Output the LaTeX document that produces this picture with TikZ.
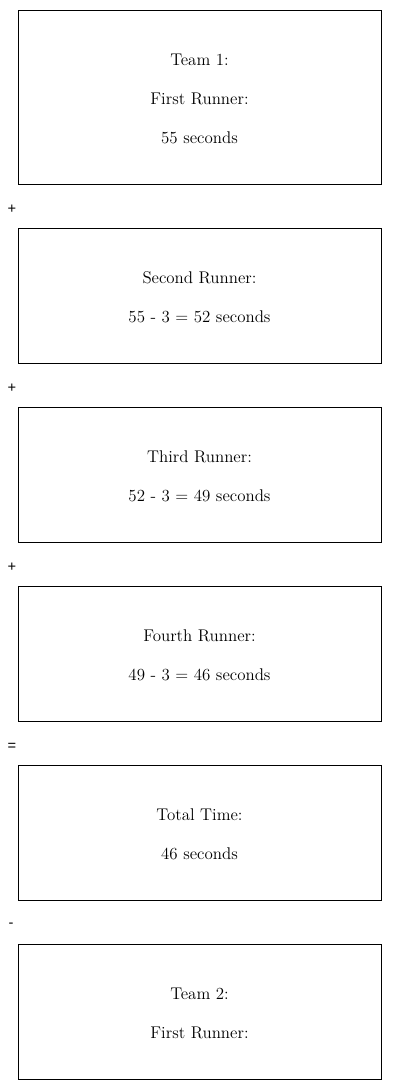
\documentclass[tikz,border=0pt]{standalone}
\usepackage{fontspec}
\newfontfamily\signfont{Liberation Sans}
\begin{document}
\begin{tikzpicture}[x=0.75pt,y=-0.75pt,
  box/.style={draw=black,line width=0.75pt,minimum width=272.25pt,minimum height=101.25pt,inner sep=0pt},
  bigbox/.style={box,minimum height=130.5pt},
  txt/.style={align=center,inner sep=0pt,font=\fontsize{12.7}{29.25}\selectfont},
  sign/.style={font=\signfont\fontsize{11}{13}\selectfont,inner sep=0pt}]
\useasboundingbox (0,0) rectangle (400,1090);
\node[bigbox] (b1) at (199.5,97) {};
\node[txt] (t1) at ([yshift=-1.6pt]b1.center) {Team 1:\\First Runner:\\55 seconds};
\node[sign] (s1) at (12,209.5) {+};
\node[box] (b2) at (199.5,295.5) {};
\node[txt] (t2) at ([yshift=-1.6pt]b2.center) {Second Runner:\\55 - 3 = 52 seconds};
\node[sign] (s2) at (12,388.5) {+};
\node[box] (b3) at (199.5,474.5) {};
\node[txt] (t3) at ([yshift=-1.6pt]b3.center) {Third Runner:\\52 - 3 = 49 seconds};
\node[sign] (s3) at (12,567.5) {+};
\node[box] (b4) at (199.5,653.5) {};
\node[txt] (t4) at ([yshift=-1.6pt]b4.center) {Fourth Runner:\\49 - 3 = 46 seconds};
\node[sign] (s4) at (12,746.5) {=};
\node[box] (b5) at (199.5,832.5) {};
\node[txt] (t5) at ([yshift=-1.6pt]b5.center) {Total Time:\\46 seconds};
\node[sign] (s5) at (11,925.5) {-};
\node[box] (b6) at (199.5,1011.5) {};
\node[txt] (t6) at ([yshift=-1.6pt]b6.center) {Team 2:\\First Runner:};
\end{tikzpicture}
\end{document}
